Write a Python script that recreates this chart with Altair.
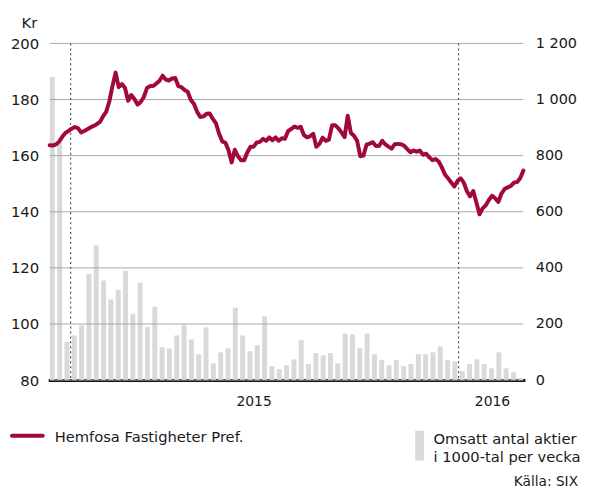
import altair as alt
import pandas as pd

# ---------------- data ----------------
# Weekly traded volume (thousands of shares), ISO weeks 50/2014 .. 9/2016
week_start = "2014-12-08"
volume = [1080, 845, 136, 159, 195, 379, 481, 355, 287, 322,
          389, 237, 347, 189, 261, 117, 113, 159, 197, 145,
          92, 188, 60, 99, 113, 258, 159, 103, 124, 227,
          50, 39, 53, 74, 142, 57, 96, 88, 96, 60,
          166, 163, 113, 166, 92, 71, 53, 71, 50, 57,
          92, 92, 99, 120, 71, 67, 32, 57, 74, 57,
          42, 99, 42, 28, 7]

# Share price (SEK), one reading every third day from 2014-12-09
price_start = "2014-12-09"
price = [163.7, 163.6, 164.0, 165.0, 166.7, 168.1, 168.8, 169.6, 170.2, 169.8,
         168.3, 168.8, 169.4, 170.1, 170.6, 171.2, 172.0, 174.0, 175.6, 179.3,
         184.8, 189.6, 184.4, 185.5, 184.1, 179.6, 181.6, 180.2, 178.2, 179.1,
         180.9, 184.1, 184.8, 184.8, 185.7, 186.7, 188.5, 187.1, 186.8, 187.5,
         187.7, 184.8, 184.4, 183.4, 182.8, 179.8, 178.4, 175.6, 173.8, 174.0,
         174.9, 175.0, 173.1, 171.5, 167.8, 165.1, 164.6, 161.9, 157.6, 162.1,
         159.8, 158.4, 158.4, 161.2, 163.2, 163.2, 164.7, 164.9, 166.0, 165.3,
         166.5, 165.5, 166.5, 165.3, 166.2, 166.0, 168.8, 169.5, 170.4, 169.9,
         170.3, 167.4, 166.5, 166.9, 167.8, 163.2, 164.2, 166.4, 165.3, 165.7,
         170.8, 170.8, 169.8, 168.3, 166.6, 174.2, 168.1, 167.1, 165.3, 159.8,
         160.0, 163.9, 164.3, 164.8, 163.4, 163.5, 165.3, 164.0, 163.2, 162.5,
         164.1, 164.2, 164.1, 163.5, 162.3, 161.2, 161.8, 161.4, 161.8, 160.3,
         160.7, 159.4, 158.4, 158.8, 157.9, 155.8, 153.3, 151.9, 150.4, 149.0,
         151.0, 151.9, 150.4, 147.3, 145.5, 147.4, 143.4, 139.1, 141.2, 142.3,
         144.2, 145.7, 144.8, 143.5, 146.5, 148.1, 148.7, 149.2, 150.4, 150.6,
         152.0, 154.7]

year_marks = ["2014-12-29", "2016-01-04"]          # dotted year boundaries
left_ticks = [80, 100, 120, 140, 160, 180, 200]
right_ticks = [0, 200, 400, 600, 800, 1000, 1200]
unit_label = "Kr"
series_name = "Hemfosa Fastigheter Pref."
volume_name = "Omsatt antal aktier\ni 1000-tal per vecka"
source_text = "Källa: SIX"

# ---------------- styling ----------------
LINE = "#a0083f"
BAR = "#d9d9d9"
GRID = "#a9a9a9"
TEXT = "#1a1a1a"
FONT = "DejaVu Sans"

weeks = pd.date_range(week_start, periods=len(volume), freq="7D") + pd.Timedelta(hours=84)
vol_df = pd.DataFrame({"date": weeks, "volume": volume})
days = pd.date_range(price_start, periods=len(price), freq="3D")
price_df = pd.DataFrame({"date": days, "price": price})
marks_df = pd.DataFrame({"date": pd.to_datetime(year_marks)})
grid_df = pd.DataFrame({"v": left_ticks})
one = pd.DataFrame({"a": [0]})

x_scale = alt.Scale(domain=[alt.DateTime(year=2014, month=12, date=9),
                            alt.DateTime(year=2016, month=3, date=6)],
                    padding=0, nice=False)
x_axis = alt.Axis(values=[alt.DateTime(year=2015, month=6, date=22),
                          alt.DateTime(year=2016, month=2, date=5)],
                  format="%Y", title=None, ticks=False, grid=False,
                  labelFlush=False,
                  labelPadding=15, labelFontSize=14, labelColor=TEXT,
                  domainColor="#111111", domainWidth=3, domainCap="square")
price_scale = alt.Scale(domain=[80, 200], nice=False, zero=False, padding=0)

bars = alt.Chart(vol_df).mark_bar(size=5, color=BAR).encode(
    x=alt.X("date:T", scale=x_scale, axis=x_axis),
    y=alt.Y("volume:Q", scale=alt.Scale(domain=[0, 1200], nice=False, padding=0),
            axis=alt.Axis(orient="right", values=right_ticks, grid=False,
                          domain=False, ticks=False, labelPadding=12,
                          labelFontSize=14.5, labelColor=TEXT, title=None,
                          labelExpr="replace(format(datum.value, ','), ',', ' ')")),
)

grid = alt.Chart(grid_df).mark_rule(color=GRID, strokeWidth=1).encode(
    y=alt.Y("v:Q", scale=price_scale, axis=None)
)

dotted = alt.Chart(marks_df).mark_rule(color="#555555", strokeWidth=1.2,
                                       strokeDash=[2, 3]).encode(
    x=alt.X("date:T", scale=x_scale, axis=x_axis)
)

line = alt.Chart(price_df).mark_line(color=LINE, strokeWidth=4,
                                     strokeJoin="round", strokeCap="round").encode(
    x=alt.X("date:T", scale=x_scale, axis=x_axis),
    y=alt.Y("price:Q", scale=price_scale,
            axis=alt.Axis(orient="left", values=left_ticks, grid=False,
                          domain=False, ticks=False, labelPadding=11,
                          labelFontSize=15, labelColor=TEXT,
                          title=unit_label, titleAngle=0, titleX=-13, titleY=-16,
                          titleAlign="right", titleBaseline="alphabetic",
                          titleFontWeight="normal", titleFontSize=15,
                          titleColor=TEXT)),
)

leg = alt.Chart(one)
leg_line = leg.mark_rule(color=LINE, strokeWidth=4, strokeCap="round").encode(
    x=alt.value(-38), x2=alt.value(-7), y=alt.value(395))
leg_text1 = leg.mark_text(align="left", baseline="alphabetic", fontSize=14.8,
                          color=TEXT).encode(
    x=alt.value(5), y=alt.value(401), text=alt.value(series_name))
leg_rect = leg.mark_rect(color=BAR).encode(
    x=alt.value(368), x2=alt.value(377), y=alt.value(390), y2=alt.value(420))
leg_text2 = leg.mark_text(align="left", baseline="alphabetic", fontSize=14.8,
                          lineBreak="\n", lineHeight=18.5, color=TEXT).encode(
    x=alt.value(386.5), y=alt.value(403), text=alt.value(volume_name))
src = leg.mark_text(align="right", baseline="alphabetic", fontSize=13.8,
                    color=TEXT).encode(
    x=alt.value(532), y=alt.value(446), text=alt.value(source_text))

chart = alt.layer(
    bars, grid, dotted, line, leg_line, leg_text1, leg_rect, leg_text2, src
).resolve_scale(y="independent").properties(
    width=477, height=339,
    padding={"left": 42, "top": 34, "right": 58, "bottom": 109},
    autosize=alt.AutoSizeParams(type="none"),
).configure(font=FONT).configure_view(stroke=None)

chart.save("out.html", embed_options={"renderer": "svg", "actions": False})
